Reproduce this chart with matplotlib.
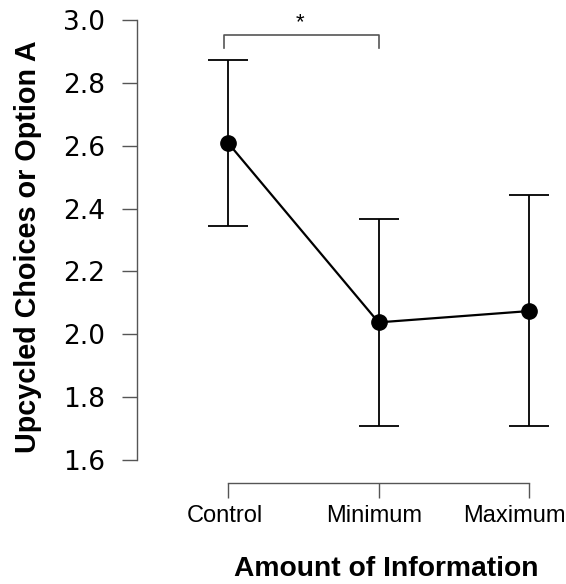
import matplotlib
matplotlib.use("Agg")
import matplotlib.pyplot as plt
import matplotlib.transforms as mtransforms
import numpy as np

plt.rcParams['font.family'] = ['Liberation Sans', 'DejaVu Sans']

# data
groups = ['Control', 'Minimum', 'Maximum']
means = [2.609, 2.038, 2.074]
upper = [2.872, 2.367, 2.443]
lower = [2.345, 1.708, 1.708]
yticks = [1.6, 1.8, 2.0, 2.2, 2.4, 2.6, 2.8, 3.0]

x = np.arange(len(groups))
means = np.array(means)
yerr = [means - np.array(lower), np.array(upper) - means]

fig = plt.figure(figsize=(5.66, 5.84), dpi=100)
ax = fig.add_axes([137/566, 101/584, 423/566, 463/584])

ax.errorbar(x, means, yerr=yerr, fmt='none', ecolor='black', elinewidth=1.3,
            capsize=14.5, capthick=1.3, zorder=2)
ax.plot(x, means, color='black', lw=1.6, zorder=3)
ax.plot(x, means, 'o', color='black', ms=11, zorder=4)

ax.set_xlim(-0.605, 2.206)
ax.set_ylim(1.527, 3.0)
ax.set_xticks(x)
ax.set_xticklabels([])
ax.set_yticks(yticks)
ax.set_yticklabels(['%.1f' % v for v in yticks], fontsize=19, family='DejaVu Sans')

# x labels drawn by hand so the last one can be pulled in, like the reference
shifts = [-3, -4, -15]
for xi, g, dx in zip(x, groups, shifts):
    tr = mtransforms.offset_copy(ax.get_xaxis_transform(), fig=fig, x=dx, y=0, units='dots')
    ax.text(xi, -(516 - 483) / 463, g, transform=tr, ha='center', va='center',
            fontsize=17, clip_on=False)

for s in ['top', 'right']:
    ax.spines[s].set_visible(False)
ax.spines['left'].set_bounds(1.6, 3.0)
ax.spines['bottom'].set_bounds(0, 2)
for s in ['left', 'bottom']:
    ax.spines[s].set_color('#555555')
    ax.spines[s].set_linewidth(1.0)
ax.tick_params(axis='both', color='#555555', length=11, width=1.0)
ax.tick_params(axis='y', pad=12)

ax.set_xlabel('Amount of Information', fontsize=20.3, fontweight='bold')
ax.xaxis.set_label_coords((386 - 137) / 423, -(556 - 483) / 463)
ax.set_ylabel('Upcycled Choices or Option A', fontsize=20.7, fontweight='bold')
ax.yaxis.set_label_coords(-(137 - 42) / 423, (584 - 101 - 247) / 463)

# significance bracket Control vs Minimum
by, bt = 2.952, 2.911
ax.plot([x[0] - 0.03, x[0] - 0.03, x[1], x[1]], [bt, by, by, bt], color='#555555',
        lw=1.2, clip_on=False)
ax.text((x[0] + x[1]) / 2 - 0.02, by + 0.005, '*', ha='center', va='bottom',
        fontsize=16, clip_on=False)

fig.savefig('out.png', dpi=100)
